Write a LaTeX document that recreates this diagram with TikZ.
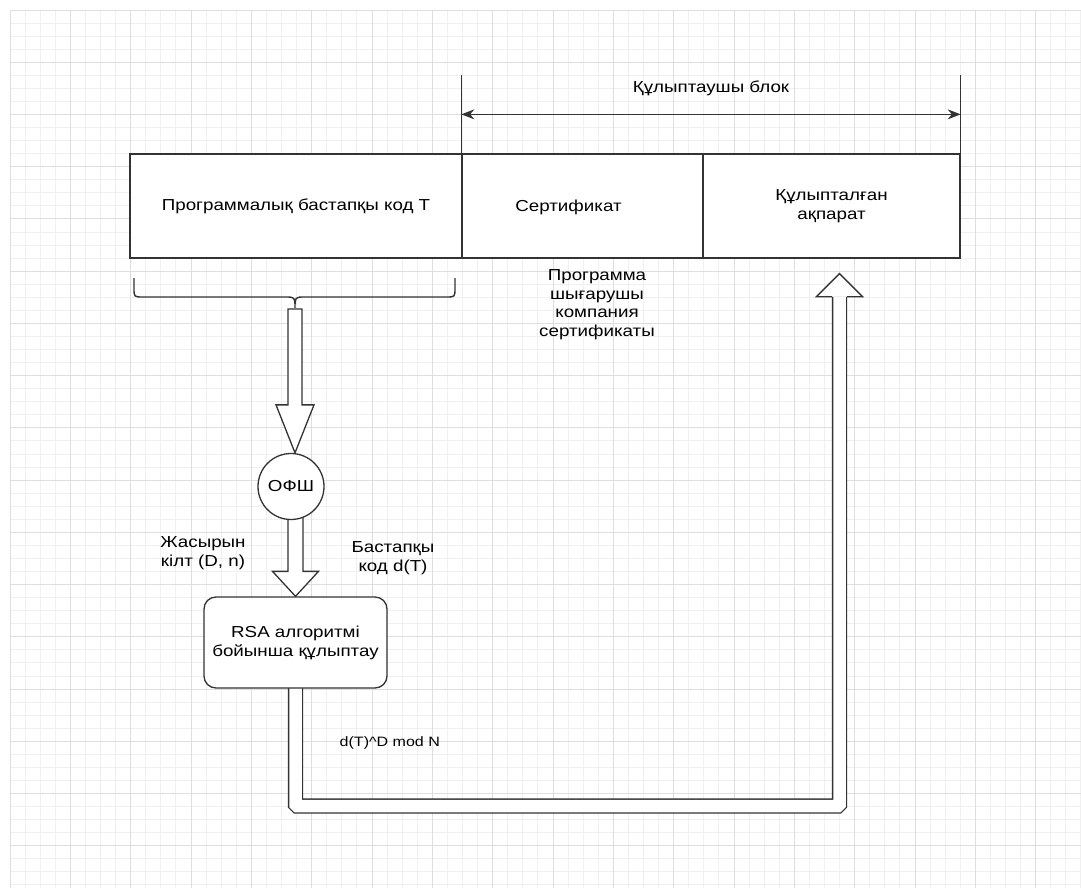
\documentclass[tikz,border=0pt]{standalone}
\usepackage{fontspec}
\setmainfont{Liberation Sans}[FakeStretch=1.18]
\usetikzlibrary{arrows.meta,calc}
\pgfdeclarelayer{background}
\pgfsetlayers{background,main}
\tikzset{
  ln/.style={draw=black!80,line width=1.3pt},
  txt/.style={align=center,inner sep=0pt,text=black},
  cell/.style={ln,fill=white,txt,minimum height=104pt},
  fat/.style={ln,fill=white,line join=miter},
}
\begin{document}
\begin{tikzpicture}[x=1pt,y=-1pt,font=\fontsize{15.9}{18.8}\selectfont]
\useasboundingbox (0,0) rectangle (1081,888);
%
\node[cell,minimum width=332pt] (code) at (296,206) {Программалық бастапқы код Т};
\node[cell,minimum width=241pt,label={[txt,xshift=-14pt,yshift=-1pt]center:Сертификат}] (cert) at (582.5,206) {};
\node[cell,minimum width=257pt] (locked) at (831.5,206) {Құлыпталған\\ақпарат};
\draw[ln] (cert.north west) -- ++(0,-78) coordinate (lft);
\draw[ln] (locked.north east) -- ++(0,-78) coordinate (rgt);
\draw[ln,{Stealth[length=13pt,width=10pt]}-{Stealth[length=13pt,width=10pt]}] ($(lft)+(0,39)$) -- ($(rgt)+(0,39)$);
\node[txt] (blocklbl) at (711,88) {Құлыптаушы блок};
\node[txt] (certlbl) at (597,304.7) {Программа\\шығарушы\\компания\\сертификаты};
%
\draw[ln,line width=1.4pt] (134,278) -- (134,288) .. controls (134,297) .. (143,297) -- (285,297)
  .. controls (295,297) .. (295,308) .. controls (295,297) .. (305,297) -- (446,297)
  .. controls (455,297) .. (455,288) -- (455,278);
\coordinate (bt) at (295,309);
\node[ln,fill=white,circle,minimum size=66pt,txt] (ofsh) at (291,486.5) {ОФШ};
\node[ln,fill=white,rounded corners=12pt,minimum width=183pt,minimum height=91pt,txt] (rsa) at (295.5,642.5) {RSA алгоритмі\\бойынша құлыптау};
\node[txt] (key) at (203,553) {Жасырын\\кілт (D, n)};
\node[txt] (src) at (393,558.5) {Бастапқы\\код d(T)};
\node[txt,anchor=west,font=\fontsize{13.6}{16}\selectfont] (cipher) at (339.5,742.5) {d(T)\textasciicircum D mod N};
\coordinate (low) at (0,806);
\coordinate (hb) at ($(locked.south)+(8,38)$);
%
\begin{pgfonlayer}{background}
\begin{scope}[shift={(10,10)},y=1pt]
\draw[color=black!6,line width=0.9pt] (0,-878) grid[xstep=15.083,ystep=13.058] (1071,0);
\draw[color=black!13,line width=0.9pt] (0,-878) grid[xstep=60.33,ystep=52.23] (1071,0);
\end{scope}
\draw[fat] let \p1=(bt), \p2=(ofsh.north) in
  (\x1-7pt,\y1) -- (\x1-7pt,\y2+48pt) -- (\x1-19pt,\y2+48pt) -- (\x1,\y2)
  -- (\x1+19pt,\y2+48pt) -- (\x1+7pt,\y2+48pt) -- (\x1+7pt,\y1) -- cycle;
\draw[fat] let \p1=(ofsh.center), \p2=(rsa.north) in
  (\x2-7.5pt,\y1) -- (\x2-7.5pt,\y2+25pt) -- (\x2-23pt,\y2+25pt) -- (\x2,\y2)
  -- (\x2+23pt,\y2+25pt) -- (\x2+7.5pt,\y2+25pt) -- (\x2+7.5pt,\y1) -- cycle;
\draw[ln,double=white,double distance=12.5pt,rounded corners=1.5pt] (rsa.center) -- (rsa |- low) -| (hb);
\draw[fat] ($(hb)+(-7.5,0)$) -- ($(hb)+(-23,0)$) -- ($(hb)+(0,-23)$) -- ($(hb)+(23,0)$) -- ($(hb)+(7.5,0)$);
\end{pgfonlayer}
\end{tikzpicture}
\end{document}
